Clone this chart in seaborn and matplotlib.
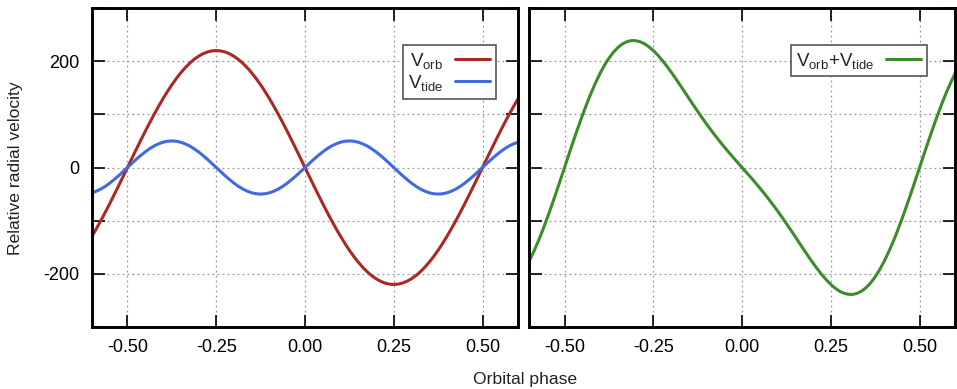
import numpy as np
import pandas as pd
import matplotlib
matplotlib.use("Agg")
import matplotlib.pyplot as plt
import seaborn as sns

# Orbital phase sampled every 0.0125 from -0.6 to 0.6
phase = [round(-0.6 + 0.0125 * i, 4) for i in range(97)]

# values
v_orb = [-129.3, -114.9, -99.9, -84.2, -68.0, -51.3, -34.4, -17.3, 0,
         17.3, 34.4, 51.3, 68.0, 84.2, 99.9, 114.9, 129.3, 142.9, 155.6, 167.3, 178.0,
         187.6, 196.0, 203.3, 209.2, 213.9, 217.3, 219.3, 220, 219.3, 217.3, 213.9, 209.2,
         203.3, 196.0, 187.6, 178.0, 167.3, 155.6, 142.9, 129.3, 114.9, 99.9, 84.2, 68.0,
         51.3, 34.4, 17.3, 0,
         -17.3, -34.4, -51.3, -68.0, -84.2, -99.9, -114.9, -129.3, -142.9, -155.6, -167.3,
         -178.0, -187.6, -196.0, -203.3, -209.2, -213.9, -217.3, -219.3, -220, -219.3, -217.3,
         -213.9, -209.2, -203.3, -196.0, -187.6, -178.0, -167.3, -155.6, -142.9, -129.3,
         -114.9, -99.9, -84.2, -68.0, -51.3, -34.4, -17.3, 0,
         17.3, 34.4, 51.3, 68.0, 84.2, 99.9, 114.9, 129.3]
v_tide = [-47.6, -44.5, -40.5, -35.4, -29.4, -22.7, -15.5, -7.8, 0,
          7.8, 15.5, 22.7, 29.4, 35.4, 40.5, 44.5, 47.6, 49.4, 50, 49.4, 47.6, 44.5, 40.5,
          35.4, 29.4, 22.7, 15.5, 7.8, 0,
          -7.8, -15.5, -22.7, -29.4, -35.4, -40.5, -44.5, -47.6, -49.4, -50, -49.4, -47.6,
          -44.5, -40.5, -35.4, -29.4, -22.7, -15.5, -7.8, 0,
          7.8, 15.5, 22.7, 29.4, 35.4, 40.5, 44.5, 47.6, 49.4, 50, 49.4, 47.6, 44.5, 40.5,
          35.4, 29.4, 22.7, 15.5, 7.8, 0,
          -7.8, -15.5, -22.7, -29.4, -35.4, -40.5, -44.5, -47.6, -49.4, -50, -49.4, -47.6,
          -44.5, -40.5, -35.4, -29.4, -22.7, -15.5, -7.8, 0,
          7.8, 15.5, 22.7, 29.4, 35.4, 40.5, 44.5, 47.6]
# values
v_sum = [-176.9, -159.4, -140.4, -119.6, -97.4, -74.0, -49.9, -25.1, 0,
         25.1, 49.9, 74.0, 97.4, 119.6, 140.4, 159.4, 176.9, 192.3, 205.6, 216.7, 225.6,
         232.1, 236.5, 238.7, 238.6, 236.6, 232.8, 227.1, 220, 211.5, 201.8, 191.2, 179.8,
         167.9, 155.5, 143.1, 130.4, 117.9, 105.6, 93.5, 81.7, 70.4, 59.4, 48.8, 38.6,
         28.6, 18.9, 9.5, 0,
         -9.5, -18.9, -28.6, -38.6, -48.8, -59.4, -70.4, -81.7, -93.5, -105.6, -117.9,
         -130.4, -143.1, -155.5, -167.9, -179.8, -191.2, -201.8, -211.5, -220, -227.1, -232.8,
         -236.6, -238.6, -238.7, -236.5, -232.1, -225.6, -216.7, -205.6, -192.3, -176.9,
         -159.4, -140.4, -119.6, -97.4, -74.0, -49.9, -25.1, 0,
         25.1, 49.9, 74.0, 97.4, 119.6, 140.4, 159.4, 176.9]

xticks = [-0.5, -0.25, 0.0, 0.25, 0.5]
xtick_labels = ["-0.50", "-0.25", "0.00", "0.25", "0.50"]
yticks = [-300, -200, -100, 0, 100, 200, 300]
ytick_labels = ["", "-200", "", "0", "", "200", ""]

sns.set_style("ticks")
plt.rcParams['font.family'] = ['Liberation Sans', 'DejaVu Sans']
plt.rcParams['mathtext.fontset'] = 'custom'
plt.rcParams['mathtext.rm'] = 'Liberation Sans'
plt.rcParams['mathtext.it'] = 'Liberation Sans'

df = pd.DataFrame({"phase": phase, "orb": v_orb, "tide": v_tide, "sum": v_sum})

fig = plt.figure(figsize=(9.57, 3.89), dpi=100)
ax1 = fig.add_axes([0.0961, 0.1594, 0.4452, 0.8200])
ax2 = fig.add_axes([0.5528, 0.1594, 0.4452, 0.8200])

line_kw = dict(lw=2.2, solid_joinstyle="round", solid_capstyle="round")
sns.lineplot(data=df, x="phase", y="orb", ax=ax1, color="#a82a22",
             label=r"V$_{\mathrm{orb}}$", **line_kw)
sns.lineplot(data=df, x="phase", y="tide", ax=ax1, color="#4169e1",
             label=r"V$_{\mathrm{tide}}$", **line_kw)
sns.lineplot(data=df, x="phase", y="sum", ax=ax2, color="#3d8c2a",
             label=r"V$_{\mathrm{orb}}$+V$_{\mathrm{tide}}$", **line_kw)

for ax in (ax1, ax2):
    ax.set_xlim(-0.6, 0.6)
    ax.set_ylim(-300, 300)
    ax.set_xticks(xticks)
    ax.set_xticklabels(xtick_labels)
    ax.set_yticks(yticks)
    ax.set_xlabel("")
    ax.set_ylabel("")
    ax.grid(True, color="#999999", linestyle=(0, (1.5, 2.5)), linewidth=0.9)
    ax.tick_params(direction="in", length=9, width=1.2, top=True, right=True,
                   labelsize=13, pad=9, colors="black")
    for s in ax.spines.values():
        s.set_linewidth(2.1)
        s.set_color("black")
        s.set_visible(True)

ax1.set_yticklabels(ytick_labels)
ax2.set_yticklabels([])

leg_kw = dict(loc="upper right", markerfirst=False, fancybox=False, framealpha=1,
              edgecolor="#555555", fontsize=13.5, handlelength=1.9, borderpad=0.3,
              handletextpad=0.6, borderaxespad=0)
leg1 = ax1.legend(bbox_to_anchor=(0.948, 0.884), labelspacing=0.12, **leg_kw)
leg2 = ax2.legend(bbox_to_anchor=(0.934, 0.884), **leg_kw)
for leg in (leg1, leg2):
    leg.get_frame().set_linewidth(1.2)

fig.text(0.016, 0.5688, "Relative radial velocity", rotation=90, ha="center", va="center",
         fontsize=12.6, color="#222222")
fig.text(0.549, 0.025, "Orbital phase", ha="center", va="center", fontsize=12.6, color="#222222")

fig.savefig("out.png", dpi=100)
